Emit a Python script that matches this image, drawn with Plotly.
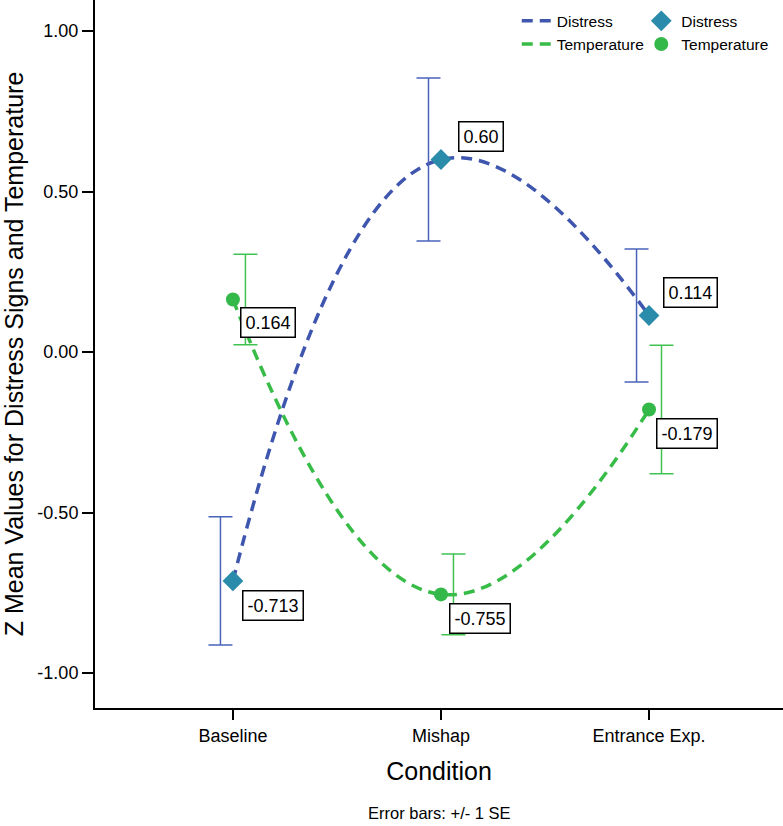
import plotly.graph_objects as go

categories = ["Baseline", "Mishap", "Entrance Exp."]
distress_mean = [-0.713, 0.60, 0.114]
distress_se = [0.200, 0.254, 0.207]
distress_labels = ["-0.713", "0.60", "0.114"]
temperature_mean = [0.164, -0.755, -0.179]
temperature_se = [0.141, 0.126, 0.200]
temperature_labels = ["0.164", "-0.755", "-0.179"]
y_ticks = [1.0, 0.5, 0.0, -0.5, -1.0]
y_tick_labels = ["1.00", "0.50", "0.00", "-0.50", "-1.00"]

FONT = "Liberation Sans, Arial, sans-serif"
D_LINE = "#3F56AE"
D_MARK = "#2A8BAA"
D_ERR = "#4A63BA"
T_LINE = "#38BC48"
T_MARK = "#34B84A"
T_ERR = "#40C250"

xpos = list(range(len(categories)))
offset = 0.06

fig = go.Figure()

# Legend 1: lines
fig.add_trace(go.Scatter(x=xpos, y=distress_mean, mode="lines", name="Distress",
                         line=dict(color=D_LINE, width=3.5, dash="11px,7px", shape="spline", smoothing=1.3),
                         legend="legend", hoverinfo="skip"))
fig.add_trace(go.Scatter(x=xpos, y=temperature_mean, mode="lines", name="Temperature",
                         line=dict(color=T_LINE, width=3.5, dash="11px,7px", shape="spline", smoothing=1.3),
                         legend="legend", hoverinfo="skip"))

# Error bars (offset from marker)
fig.add_trace(go.Scatter(x=[p - offset for p in xpos], y=distress_mean, mode="markers",
                         marker=dict(color="rgba(0,0,0,0)", size=1),
                         error_y=dict(type="data", array=distress_se, visible=True,
                                      color=D_ERR, thickness=1.5, width=12),
                         showlegend=False, hoverinfo="skip"))
fig.add_trace(go.Scatter(x=[p + offset for p in xpos], y=temperature_mean, mode="markers",
                         marker=dict(color="rgba(0,0,0,0)", size=1),
                         error_y=dict(type="data", array=temperature_se, visible=True,
                                      color=T_ERR, thickness=1.5, width=12),
                         showlegend=False, hoverinfo="skip"))

# Legend 2: markers
fig.add_trace(go.Scatter(x=xpos, y=distress_mean, mode="markers", name="Distress",
                         marker=dict(color=D_MARK, symbol="diamond", size=16),
                         legend="legend2"))
fig.add_trace(go.Scatter(x=xpos, y=temperature_mean, mode="markers", name="Temperature",
                         marker=dict(color=T_MARK, symbol="circle", size=14),
                         legend="legend2"))

# Value labels
d_shifts = [(40, -25), (40, 23), (41, 23)]
t_shifts = [(35, -23), (39, -24), (38, -24)]
for i, (v, lab) in enumerate(zip(distress_mean, distress_labels)):
    fig.add_annotation(x=xpos[i], y=v, text=lab, showarrow=False,
                       xshift=d_shifts[i][0], yshift=d_shifts[i][1],
                       font=dict(family=FONT, size=18, color="black"),
                       bgcolor="white", bordercolor="black", borderwidth=1.5, borderpad=4)
for i, (v, lab) in enumerate(zip(temperature_mean, temperature_labels)):
    fig.add_annotation(x=xpos[i], y=v, text=lab, showarrow=False,
                       xshift=t_shifts[i][0], yshift=t_shifts[i][1],
                       font=dict(family=FONT, size=18, color="black"),
                       bgcolor="white", bordercolor="black", borderwidth=1.5, borderpad=4)

fig.add_annotation(x=0.5, y=-0.149, xref="paper", yref="paper", text="Error bars: +/- 1 SE",
                   showarrow=False, yanchor="middle",
                   font=dict(family=FONT, size=16.5, color="black"))

fig.update_layout(
    width=783, height=826,
    margin=dict(l=95, r=0, t=0, b=118),
    paper_bgcolor="white", plot_bgcolor="white",
    font=dict(family=FONT, color="black"),
    legend=dict(x=0.613, y=0.994, xanchor="left", yanchor="top", bgcolor="rgba(0,0,0,0)",
                font=dict(family=FONT, size=15.5), tracegroupgap=0, itemwidth=30),
    legend2=dict(x=0.794, y=0.994, xanchor="left", yanchor="top", bgcolor="rgba(0,0,0,0)",
                 font=dict(family=FONT, size=15.5), tracegroupgap=0, itemwidth=30),
)
fig.update_xaxes(range=[-0.663, 2.644], tickvals=xpos, ticktext=categories,
                 showline=True, linecolor="black", linewidth=2, ticks="outside",
                 ticklen=10, tickwidth=2, tickcolor="black", showgrid=False, zeroline=False,
                 tickfont=dict(family=FONT, size=18),
                 title=dict(text="Condition", font=dict(family=FONT, size=25), standoff=18))
fig.update_yaxes(range=[-1.109, 1.097], tickvals=y_ticks, ticktext=y_tick_labels,
                 showline=True, linecolor="black", linewidth=2, ticks="outside",
                 ticklen=11, tickwidth=2, tickcolor="black", showgrid=False, zeroline=False,
                 tickfont=dict(family=FONT, size=18),
                 title=dict(text="Z Mean Values for Distress Signs and Temperature",
                            font=dict(family=FONT, size=25), standoff=7))

fig.write_html("out.html")
